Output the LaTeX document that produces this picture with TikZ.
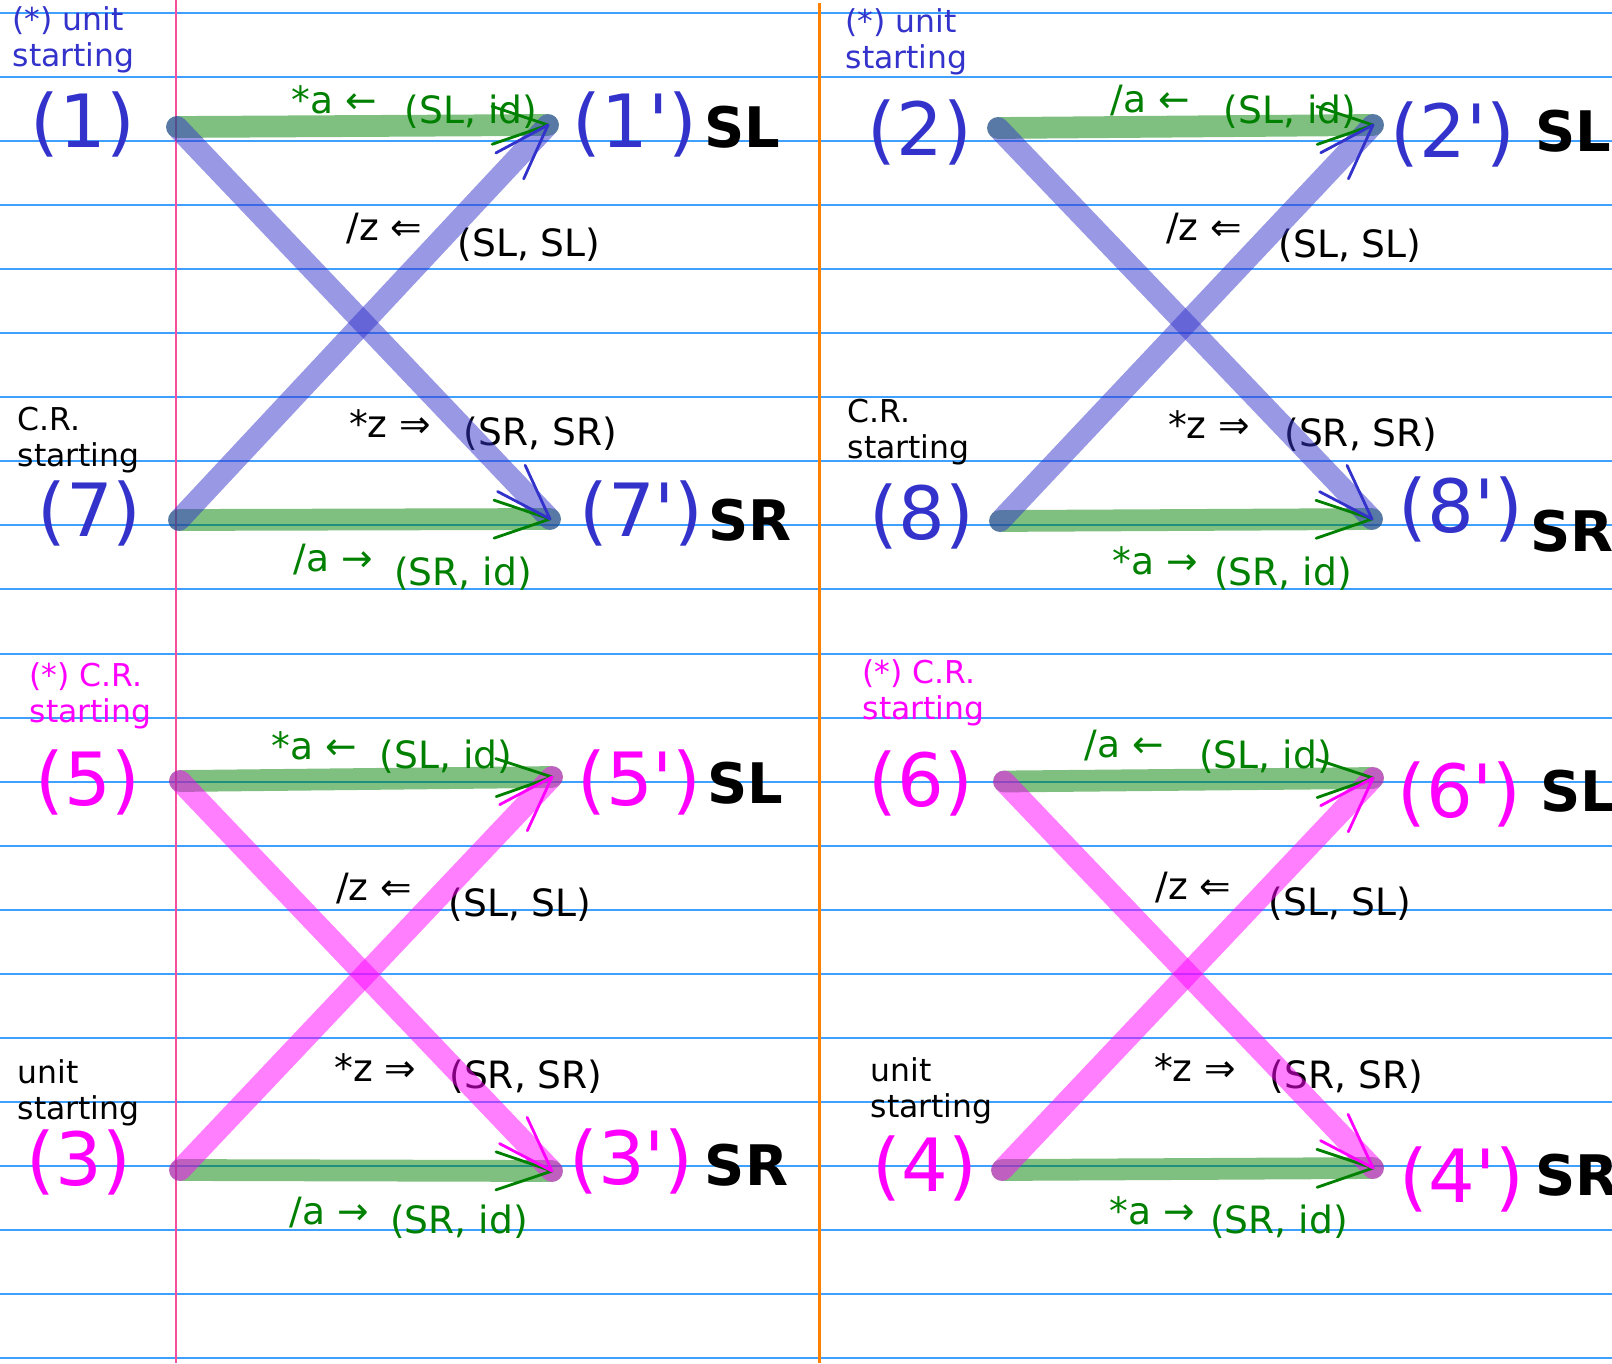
\documentclass[tikz,border=0pt]{standalone}
\usepackage{fontspec}
\setmainfont{DejaVu Sans}
\usetikzlibrary{decorations.markings}

\definecolor{penblue}{RGB}{51,51,204}
\definecolor{pengreen}{RGB}{0,128,0}
\definecolor{penpink}{RGB}{255,0,255}
\definecolor{ruleblue}{RGB}{64,160,255}
\definecolor{marginred}{RGB}{245,80,160}
\definecolor{splitorange}{RGB}{255,128,0}

\begin{document}
\begin{tikzpicture}[
    big/.style={inner sep=0pt,font=\fontsize{20.9pt}{25pt}\selectfont},
    side/.style={inner sep=0pt,font=\fontsize{15.9pt}{19pt}\selectfont\bfseries},
    lab/.style={inner sep=0pt,font=\fontsize{10.7pt}{13pt}\selectfont},
    note/.style={inner sep=0pt,anchor=west,align=left,
        font=\fontsize{8.95pt}{10.1pt}\selectfont},
    band/.style={line width=6.2pt,line cap=round,draw=#1,draw opacity=0.5},
    head/.style={decorate,decoration={markings,mark=at position 1 with
        {\draw[#1,line width=0.8pt,line cap=round,line join=round]
            (-0.56,0.19) -- (0,0) -- (-0.56,-0.19);}}}
]
    \clip (0,0) rectangle (16.12,-13.63);
    \fill[white] (0,0) rectangle (16.12,-13.63);
    \foreach \k in {0,...,21}
        \draw[ruleblue,line width=0.57pt] (0,{-0.13-0.6405*\k}) -- (16.12,{-0.13-0.6405*\k});
    \draw[marginred,line width=0.57pt] (1.76,0) -- (1.76,-13.63);
    \draw[splitorange,line width=0.85pt] (8.19,-0.03) -- (8.19,-13.63);

    \coordinate (p1) at (1.77,-1.27);
    \coordinate (p1p) at (5.48,-1.25);
    \coordinate (p7) at (1.79,-5.20);
    \coordinate (p7p) at (5.50,-5.19);
    \coordinate (p2) at (9.98,-1.28);
    \coordinate (p2p) at (13.73,-1.25);
    \coordinate (p8) at (10.00,-5.21);
    \coordinate (p8p) at (13.72,-5.19);
    \coordinate (p5) at (1.80,-7.81);
    \coordinate (p5p) at (5.52,-7.77);
    \coordinate (p3) at (1.80,-11.70);
    \coordinate (p3p) at (5.52,-11.71);
    \coordinate (p6) at (10.04,-7.815);
    \coordinate (p6p) at (13.73,-7.78);
    \coordinate (p4) at (10.02,-11.70);
    \coordinate (p4p) at (13.73,-11.68);

    \node[note,penblue] (st1) at (0.12,-0.40) {(*) unit\\starting};
    \node[note] (st7) at (0.17,-4.40) {C.R.\\starting};
    \node[note,penblue] (st2) at (8.45,-0.42) {(*) unit\\starting};
    \node[note] (st8) at (8.47,-4.32) {C.R.\\starting};
    \node[note,penpink] (st5) at (0.29,-6.96) {(*) C.R.\\starting};
    \node[note] (st3) at (0.17,-10.93) {unit\\starting};
    \node[note,penpink] (st6) at (8.62,-6.93) {(*) C.R.\\starting};
    \node[note] (st4) at (8.70,-10.91) {unit\\starting};

    \node[big,penblue] (n1) at (0.83,-1.24) {(1)};
    \node[big,penblue] (n1p) at (6.35,-1.24) {(1\textquotesingle)};
    \node[side] (slA) at (7.425,-1.27) {SL};
    \node[big,penblue] (n7) at (0.895,-5.13) {(7)};
    \node[big,penblue] (n7p) at (6.415,-5.13) {(7\textquotesingle)};
    \node[side] (srA) at (7.50,-5.205) {SR};

    \node[big,penblue] (n2) at (9.20,-1.325) {(2)};
    \node[big,penblue] (n2p) at (14.53,-1.34) {(2\textquotesingle)};
    \node[side,anchor=west] (slB) at (15.35,-1.315) {SL};
    \node[big,penblue] (n8) at (9.22,-5.16) {(8)};
    \node[big,penblue] (n8p) at (14.61,-5.09) {(8\textquotesingle)};
    \node[side,anchor=west] (srB) at (15.30,-5.31) {SR};

    \node[big,penpink] (n5) at (0.88,-7.825) {(5)};
    \node[big,penpink] (n5p) at (6.395,-7.82) {(5\textquotesingle)};
    \node[side] (slC) at (7.45,-7.83) {SL};
    \node[big,penpink] (n3) at (0.79,-11.62) {(3)};
    \node[big,penpink] (n3p) at (6.315,-11.61) {(3\textquotesingle)};
    \node[side] (srC) at (7.465,-11.655) {SR};

    \node[big,penpink] (n6) at (9.21,-7.83) {(6)};
    \node[big,penpink] (n6p) at (14.595,-7.945) {(6\textquotesingle)};
    \node[side,anchor=west] (slD) at (15.40,-7.91) {SL};
    \node[big,penpink] (n4) at (9.25,-11.68) {(4)};
    \node[big,penpink] (n4p) at (14.62,-11.795) {(4\textquotesingle)};
    \node[side,anchor=west] (srD) at (15.35,-11.75) {SR};

    \node[lab,pengreen] (ra1) at (3.34,-1.00) {*a ←};
    \node[lab,pengreen] (rb1) at (4.71,-1.12) {(SL, id)};
    \node[lab] (ca1) at (3.845,-2.29) {/z ⇐};
    \node[lab] (cb1) at (5.29,-2.45) {(SL, SL)};
    \node[lab] (da1) at (3.90,-4.24) {*z ⇒};
    \node[lab] (db1) at (5.405,-4.34) {(SR, SR)};
    \node[lab,pengreen] (sa1) at (3.33,-5.60) {/a →};
    \node[lab,pengreen] (sb1) at (4.63,-5.74) {(SR, id)};

    \node[lab,pengreen] (ra2) at (11.50,-1.01) {/a ←};
    \node[lab,pengreen] (rb2) at (12.90,-1.12) {(SL, id)};
    \node[lab] (ca2) at (12.04,-2.29) {/z ⇐};
    \node[lab] (cb2) at (13.50,-2.46) {(SL, SL)};
    \node[lab] (da2) at (12.09,-4.25) {*z ⇒};
    \node[lab] (db2) at (13.61,-4.35) {(SR, SR)};
    \node[lab,pengreen] (sa2) at (11.55,-5.61) {*a →};
    \node[lab,pengreen] (sb2) at (12.83,-5.74) {(SR, id)};

    \node[lab,pengreen] (ra3) at (3.14,-7.46) {*a ←};
    \node[lab,pengreen] (rb3) at (4.46,-7.565) {(SL, id)};
    \node[lab] (ca3) at (3.74,-8.89) {/z ⇐};
    \node[lab] (cb3) at (5.20,-9.045) {(SL, SL)};
    \node[lab] (da3) at (3.755,-10.68) {*z ⇒};
    \node[lab] (db3) at (5.26,-10.77) {(SR, SR)};
    \node[lab,pengreen] (sa3) at (3.295,-12.13) {/a →};
    \node[lab,pengreen] (sb3) at (4.59,-12.22) {(SR, id)};

    \node[lab,pengreen] (ra4) at (11.245,-7.46) {/a ←};
    \node[lab,pengreen] (rb4) at (12.655,-7.565) {(SL, id)};
    \node[lab] (ca4) at (11.935,-8.88) {/z ⇐};
    \node[lab] (cb4) at (13.40,-9.04) {(SL, SL)};
    \node[lab] (da4) at (11.95,-10.68) {*z ⇒};
    \node[lab] (db4) at (13.465,-10.77) {(SR, SR)};
    \node[lab,pengreen] (sa4) at (11.52,-12.11) {*a →};
    \node[lab,pengreen] (sb4) at (12.79,-12.22) {(SR, id)};

    \def\links{p1/p1p/pengreen,p7/p7p/pengreen,p2/p2p/pengreen,p8/p8p/pengreen,
        p5/p5p/pengreen,p3/p3p/pengreen,p6/p6p/pengreen,p4/p4p/pengreen,
        p1/p7p/penblue,p7/p1p/penblue,p2/p8p/penblue,p8/p2p/penblue,
        p5/p3p/penpink,p3/p5p/penpink,p6/p4p/penpink,p4/p6p/penpink}
    \foreach \s/\t/\c in \links
        \draw[band=\c] (\s) -- (\t);
    \foreach \s/\t/\c in \links
        \path[head=\c] (\s) -- (\t);
\end{tikzpicture}
\end{document}
